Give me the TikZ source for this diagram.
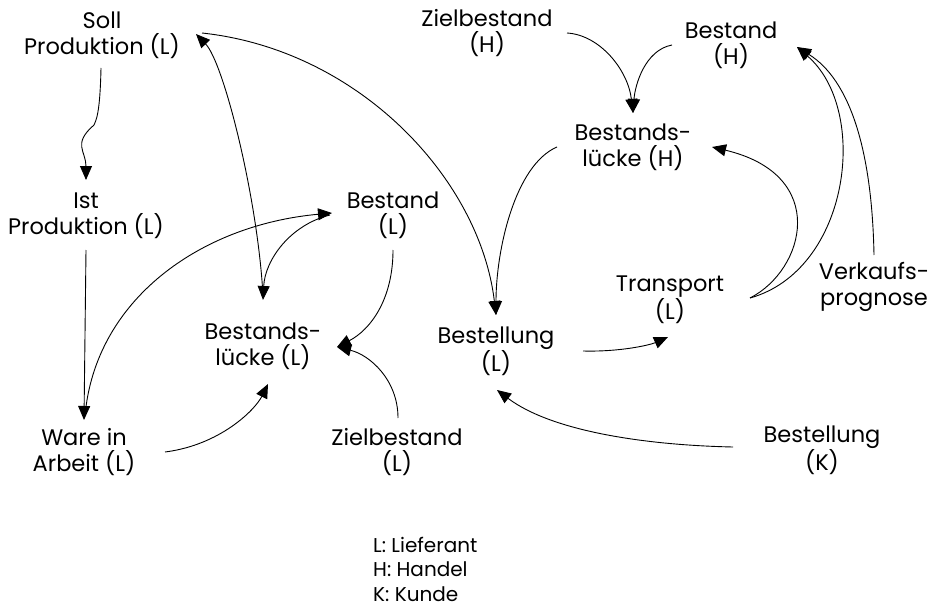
\documentclass[tikz,border=0pt]{standalone}
\usepackage{fontspec}
\setmainfont{Poppins}
\usetikzlibrary{arrows.meta}
\begin{document}
\begin{tikzpicture}[x=1pt,y=-1pt,
  lbl/.style={align=center,inner sep=0pt,font=\fontsize{22.5}{26}\selectfont},
  legend/.style={align=left,inner sep=0pt,font=\fontsize{20}{24.5}\selectfont},
  arr/.style={line width=0.9pt,-{Triangle[length=14pt,width=12pt]}},
  con/.style={line width=0.9pt}]
\useasboundingbox (0,0) rectangle (931,607);
\node[lbl] (soll) at (102,35) {Soll\\Produktion (L)};
\node[lbl] (ist) at (86,216) {Ist\\Produktion (L)};
\node[lbl] (ware) at (84,452) {Ware in\\Arbeit (L)};
\node[lbl] (bestL) at (393,215) {Bestand\\(L)};
\node[lbl] (lueckeL) at (263,346) {Bestands-\\lücke (L)};
\node[lbl] (zielL) at (397,452) {Zielbestand\\(L)};
\node[lbl] (bestellL) at (496,351) {Bestellung\\(L)};
\node[lbl] (transport) at (670,300) {Transport\\(L)};
\node[lbl] (verkauf) at (874,287) {Verkaufs-\\prognose};
\node[lbl] (bestellK) at (822,450) {Bestellung\\(K)};
\node[lbl] (zielH) at (487,33) {Zielbestand\\(H)};
\node[lbl] (bestH) at (731,45) {Bestand\\(H)};
\node[lbl] (lueckeH) at (633,147) {Bestands-\\lücke (H)};
\node[legend,anchor=west] (leg) at (373,569) {L: Lieferant\\H: Handel\\K: Kunde};

% Soll -> Ist
\draw[arr] ([shift={(-1,33)}]soll.center) .. controls ([shift={(-2,80)}]soll.center) and ([shift={(-6,85)}]soll.center) .. ([shift={(-8,90)}]soll.center)
  .. controls ([shift={(-14,-72)}]ist.center) and ([shift={(0,-65)}]ist.center) .. ([shift={(0,-36)}]ist.center);
% Ist -> Ware
\draw[arr] ([shift={(0,34)}]ist.center) -- ([shift={(0,-32)}]ware.center);
% Ware -> Bestand L
\draw[arr] ([shift={(1,-36)}]ware.center) .. controls ([shift={(11,-152)}]ware.center) and ([shift={(-193,10)}]bestL.center) .. ([shift={(-61,-2)}]bestL.center);
% Ware -> Luecke L
\draw[arr] ([shift={(81,0)}]ware.center) .. controls ([shift={(136,-7)}]ware.center) and ([shift={(-8,64)}]lueckeL.center) .. ([shift={(5,38)}]lueckeL.center);
% Bestand L -> Luecke L
\draw[arr] ([shift={(0,35)}]bestL.center) .. controls ([shift={(0,85)}]bestL.center) and ([shift={(107,-16)}]lueckeL.center) .. ([shift={(74,1)}]lueckeL.center);
% Ziel L -> Luecke L
\draw[arr] ([shift={(1,-34)}]zielL.center) .. controls ([shift={(1,-72)}]zielL.center) and ([shift={(107,9)}]lueckeL.center) .. ([shift={(74,1)}]lueckeL.center);
% Bestand L -> Luecke L (top)
\draw[arr] ([shift={(-63,0)}]bestL.center) .. controls ([shift={(-103,10)}]bestL.center) and ([shift={(2,-86)}]lueckeL.center) .. ([shift={(0,-46)}]lueckeL.center);
% Luecke L -> Soll
\draw[arr] ([shift={(0,-50)}]lueckeL.center) .. controls ([shift={(-5,-146)}]lueckeL.center) and ([shift={(122,28)}]soll.center) .. ([shift={(94,-1)}]soll.center);
% Soll -> Bestellung L
\draw[arr] ([shift={(100,-2)}]soll.center) .. controls ([shift={(258,15)}]soll.center) and ([shift={(-16,-171)}]bestellL.center) .. ([shift={(0,-36)}]bestellL.center);
% Luecke H -> Bestellung L
\draw[arr] ([shift={(-76,0)}]lueckeH.center) .. controls ([shift={(-118,18)}]lueckeH.center) and ([shift={(0,-101)}]bestellL.center) .. ([shift={(0,-36)}]bestellL.center);
% Bestellung L -> Transport
\draw[arr] ([shift={(87,0)}]bestellL.center) .. controls ([shift={(124,1)}]bestellL.center) and ([shift={(-20,45)}]transport.center) .. ([shift={(-2,37)}]transport.center);
% Transport -> Luecke H
\draw[arr] ([shift={(80,-2)}]transport.center) .. controls ([shift={(135,-30)}]transport.center) and ([shift={(197,28)}]lueckeH.center) .. ([shift={(79,0)}]lueckeH.center);
% Transport -> Bestand H
\draw[arr] ([shift={(80,-2)}]transport.center) .. controls ([shift={(180,-30)}]transport.center) and ([shift={(139,65)}]bestH.center) .. ([shift={(66,2)}]bestH.center);
% Verkaufsprognose -> Bestand H
\draw[arr] ([shift={(0,-32)}]verkauf.center) .. controls ([shift={(-2,-137)}]verkauf.center) and ([shift={(119,35)}]bestH.center) .. ([shift={(66,2)}]bestH.center);
% Ziel H -> Luecke H
\draw[arr] ([shift={(80,0)}]zielH.center) .. controls ([shift={(113,2)}]zielH.center) and ([shift={(-5,-77)}]lueckeH.center) .. ([shift={(0,-34)}]lueckeH.center);
% Bestand H -> Luecke H
\draw[arr] ([shift={(-59,0)}]bestH.center) .. controls ([shift={(-86,5)}]bestH.center) and ([shift={(2,-62)}]lueckeH.center) .. ([shift={(0,-34)}]lueckeH.center);
% Bestellung K -> Bestellung L
\draw[arr] ([shift={(-89,-3)}]bestellK.center) .. controls ([shift={(-182,-5)}]bestellK.center) and ([shift={(54,79)}]bestellL.center) .. ([shift={(1,39)}]bestellL.center);
\end{tikzpicture}
\end{document}
